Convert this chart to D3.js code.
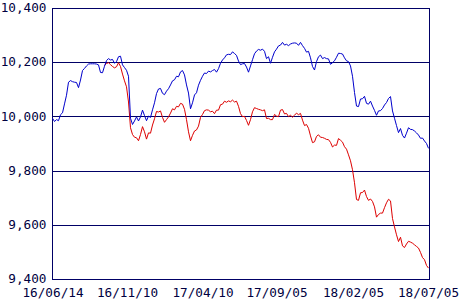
<!DOCTYPE html>
<html>
<head>
<meta charset="utf-8">
<script src="https://cdn.jsdelivr.net/npm/d3@7"></script>
<style>
  body { margin: 0; background: #fff; }
  svg text { font-family: "DejaVu Sans Mono", "Liberation Mono", monospace; font-size: 12.7px; fill: #000040; }
</style>
</head>
<body>
<svg id="chart" width="470" height="300"></svg>
<script>
// values, one sample every 4 days from the start date
const startDate = "2016-06-14";
const stepDays = 4;
const redStartIndex = 26; // red series begins later

const blueValues = [
  9995, 9983, 9990, 9986, 10008, 10015, 10048, 10080, 10128, 10134,
  10130, 10128, 10127, 10108, 10136, 10171, 10179, 10188, 10195, 10196,
  10196, 10196, 10195, 10192, 10164, 10163, 10187, 10208, 10215, 10210,
  10212, 10198, 10204, 10222, 10224, 10192, 10182, 10172, 10150, 9995,
  9972, 9985, 10000, 9985, 10000, 10025, 10005, 9986, 10003, 9998,
  10026, 10052, 10086, 10103, 10105, 10087, 10082, 10095, 10104, 10118,
  10133, 10137, 10150, 10148, 10166, 10171, 10155, 10118, 10088, 10030,
  10052, 10081, 10089, 10117, 10135, 10150, 10162, 10160, 10169, 10166,
  10171, 10175, 10165, 10178, 10198, 10210, 10218, 10229, 10231, 10230,
  10240, 10234, 10227, 10206, 10193, 10196, 10197, 10184, 10165, 10188,
  10211, 10233, 10243, 10249, 10246, 10250, 10242, 10215, 10222, 10198,
  10220, 10240, 10250, 10262, 10265, 10275, 10265, 10268, 10263, 10269,
  10272, 10273, 10272, 10264, 10275, 10263, 10253, 10239, 10242, 10218,
  10186, 10173, 10204, 10222, 10228, 10215, 10219, 10215, 10214, 10194,
  10200, 10207, 10220, 10235, 10234, 10232, 10218, 10207, 10204, 10188,
  10150, 10090, 10040, 10038, 10066, 10067, 10076, 10050, 10047, 10058,
  10040, 10024, 10006, 10022, 10023, 10031, 10044, 10053, 10068, 10075,
  10022, 9995, 9968, 9942, 9957, 9932, 9922, 9940, 9960, 9954,
  9953, 9948, 9941, 9933, 9921, 9922, 9911, 9902, 9884
];

const redValues = [
  10190, 10197, 10200, 10193, 10186, 10181, 10185, 10200, 10186, 10158,
  10133, 10111, 10055, 9960, 9935, 9925, 9923, 9912, 9935, 9964,
  9945, 9918, 9941, 9940, 9970, 9993, 10020, 10018, 10022, 9998,
  9980, 9990, 10000, 10014, 10030, 10026, 10039, 10037, 10050, 10047,
  10028, 9990, 9945, 9912, 9932, 9948, 9952, 9966, 9998, 10009,
  10023, 10026, 10025, 10019, 10021, 10012, 10025, 10025, 10045, 10047,
  10058, 10054, 10059, 10056, 10062, 10055, 10058, 10039, 10012, 10001,
  10002, 9987, 9969, 9990, 10019, 10034, 10031, 10028, 10026, 10023,
  10026, 9994, 9995, 9990, 9990, 10009, 10003, 10001, 10025, 10027,
  10011, 10013, 10001, 10006, 9999, 10006, 10014, 10008, 10013, 9988,
  9968, 9972, 9958, 9930, 9905, 9908, 9928, 9934, 9925, 9924,
  9921, 9917, 9916, 9906, 9889, 9896, 9895, 9920, 9914, 9907,
  9890, 9881, 9860, 9838, 9805, 9757, 9695, 9692, 9720, 9721,
  9730, 9706, 9692, 9697, 9688, 9668, 9630, 9640, 9645, 9645,
  9665, 9683, 9696, 9690, 9625, 9594, 9565, 9540, 9556, 9524,
  9518, 9531, 9541, 9538, 9534, 9528, 9522, 9516, 9500, 9481,
  9473, 9452, 9442
];

const xTickDates = ["2016-06-14", "2016-11-10", "2017-04-10", "2017-09-05", "2018-02-05", "2018-07-05"];
const yTicks = [9400, 9600, 9800, 10000, 10200, 10400];
const xDomainEnd = "2018-07-08";

const parse = d3.utcParse("%Y-%m-%d");
const start = parse(startDate);

const blueData = blueValues.map((v, i) => ({ date: d3.utcDay.offset(start, i * stepDays), value: v }));
const redData = redValues.map((v, i) => ({ date: d3.utcDay.offset(start, (i + redStartIndex) * stepDays), value: v }));

const svg = d3.select("#chart");
const plot = { left: 52.5, right: 429.5, top: 8.5, bottom: 279.5 };

const x = d3.scaleUtc()
  .domain([start, parse(xDomainEnd)])
  .range([plot.left, plot.right]);

const y = d3.scaleLinear()
  .domain([9400, 10400])
  .range([plot.bottom, plot.top]);

const lineColor = "#000066";

// grid lines
svg.append("g")
  .selectAll("line")
  .data(yTicks)
  .join("line")
  .attr("x1", plot.left)
  .attr("x2", plot.right)
  .attr("y1", d => Math.round(y(d) - 0.5) + 0.5)
  .attr("y2", d => Math.round(y(d) - 0.5) + 0.5)
  .attr("stroke", lineColor)
  .attr("stroke-width", 1);

// frame
svg.append("rect")
  .attr("x", plot.left)
  .attr("y", plot.top)
  .attr("width", plot.right - plot.left)
  .attr("height", plot.bottom - plot.top)
  .attr("fill", "none")
  .attr("stroke", lineColor)
  .attr("stroke-width", 1);

const line = d3.line()
  .x(d => x(d.date))
  .y(d => y(d.value));

svg.append("path")
  .datum(redData)
  .attr("d", line)
  .attr("fill", "none")
  .attr("stroke", "#dd0000")
  .attr("stroke-width", 1);

svg.append("path")
  .datum(blueData)
  .attr("d", line)
  .attr("fill", "none")
  .attr("stroke", "#0000cc")
  .attr("stroke-width", 1);

// y axis labels
const yAxis = d3.axisLeft(y)
  .tickValues(yTicks)
  .tickFormat(d3.format(","))
  .tickSize(0)
  .tickPadding(6);

svg.append("g")
  .attr("transform", `translate(${plot.left},0)`)
  .call(yAxis)
  .call(g => g.select(".domain").remove())
  .call(g => g.selectAll("text").attr("dy", "0.25em").attr("font-family", null).attr("font-size", null));

// x axis labels
const xAxis = d3.axisBottom(x)
  .tickValues(xTickDates.map(parse))
  .tickFormat(d3.utcFormat("%y/%m/%d"))
  .tickSize(0)
  .tickPadding(8);

svg.append("g")
  .attr("transform", `translate(0,${plot.bottom})`)
  .call(xAxis)
  .call(g => g.select(".domain").remove())
  .call(g => g.selectAll("text").attr("font-family", null).attr("font-size", null));
</script>
</body>
</html>
